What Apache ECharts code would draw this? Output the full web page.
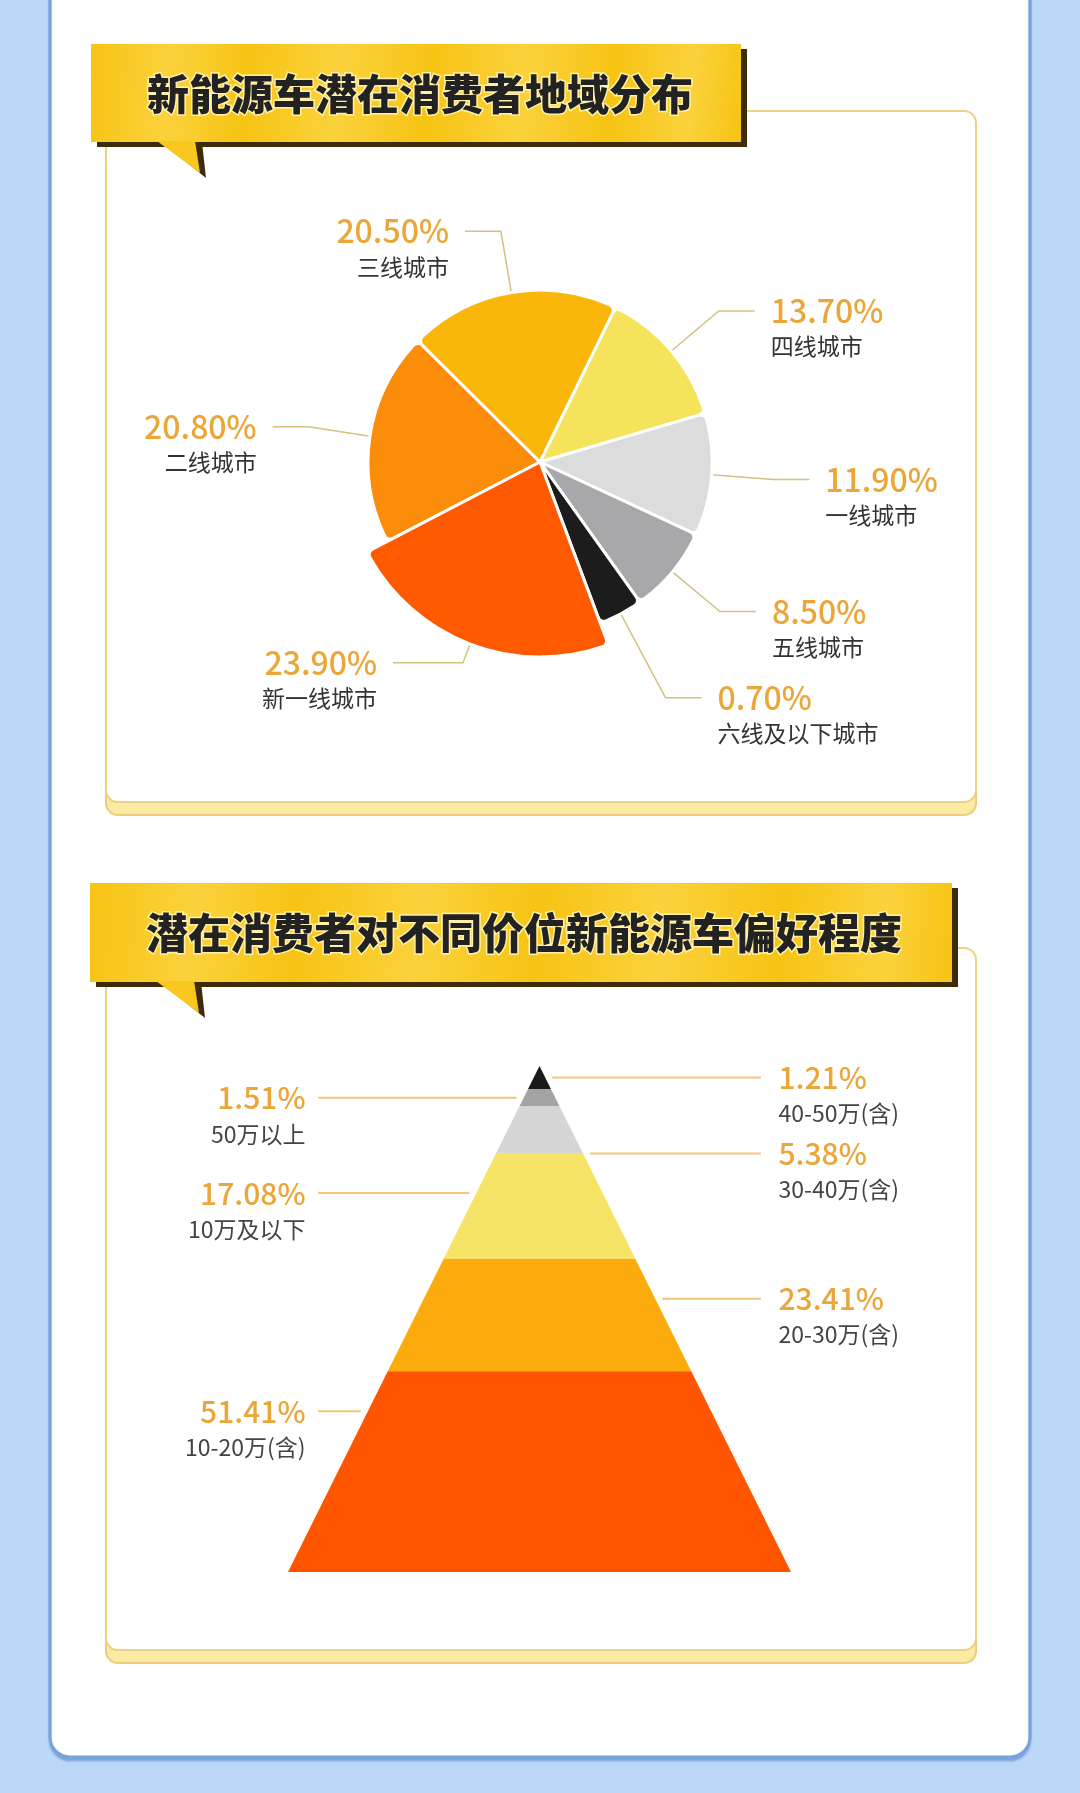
<!DOCTYPE html>
<html lang="zh">
<head>
  <meta charset="UTF-8">
  <meta name="viewport" content="width=device-width, initial-scale=1.0">
  <title>新能源车潜在消费者</title>
  <style>
    html,
    body {
      margin: 0;
      padding: 0;
      background: #bcd8f8;
    }

    #main {
      width: 1080px;
      height: 1793px;
    }
  </style>
</head>
<body>
  <div id="main"></div>
  <script src="https://cdn.jsdelivr.net/npm/echarts@6/dist/echarts.min.js"></script>
  <script>
    // 地域分布，从 12 点方向顺时针
    const cityNames = ['四线城市', '一线城市', '五线城市', '六线及以下城市', '新一线城市', '二线城市', '三线城市'];
    const cityShares = [13.7, 11.9, 8.5, 0.7, 23.9, 20.8, 20.5];
    const cityColors = ['#f6e35c', '#dcdcdd', '#a8a8aa', '#1c1c1c', '#ff5a00', '#fb8d0a', '#fbb60c'];
    const bigCity = '新一线城市';

    // 价位偏好，塔尖到塔底
    const priceNames = ['40-50万(含)', '50万以上', '30-40万(含)', '10万及以下', '20-30万(含)', '10-20万(含)'];
    const priceShares = [1.21, 1.51, 5.38, 17.08, 23.41, 51.41];
    const priceColors = ['#1a1a1a', '#a3a3a3', '#d6d6d6', '#f6e466', '#fbab0c', '#ff5500'];

    const titles = ['新能源车潜在消费者地域分布', '潜在消费者对不同价位新能源车偏好程度'];

    const FONT = '"Noto Sans CJK SC", "Noto Sans", sans-serif';
    const PCT = '#eba63a';
    const LINE = '#d6c17e';
    // 个别扇区引导线加长，避免和相邻标签挤在一起
    const leaderLength = { '六线及以下城市': 95 };

    const draw = () => {
      const myChart = echarts.init(document.getElementById('main'), null, { renderer: 'canvas' });

      // ---- pie ----
      const pieLabel = {
        formatter: p => `{p|${p.value.toFixed(2)}%}\n{n|${p.name}}`,
        padding: [31, 0, 0, 0],
        distanceToLabelLine: 16,
        rich: {
          p: { fontSize: 32, lineHeight: 40, color: PCT, fontFamily: FONT, fontWeight: 500 },
          n: { fontSize: 23, lineHeight: 31, color: '#333', fontFamily: FONT }
        }
      };
      const pieBase = {
        type: 'pie',
        center: [540, 462],
        startAngle: 64,
        minAngle: 15,
        avoidLabelOverlap: false,
        labelLayout: { hideOverlap: false },
        emphasis: { disabled: true },
        label: pieLabel,
        silent: true
      };
      const pieData = (onlyBig) => cityNames.map((n, i) => {
        const on = onlyBig ? n === bigCity : n !== bigCity;
        const line = { show: on };
        if (leaderLength[n]) line.length = leaderLength[n];
        return {
          name: n,
          value: cityShares[i],
          itemStyle: on ?
            { color: cityColors[i], borderColor: '#fff', borderWidth: 3, borderRadius: 6 } :
            { color: 'transparent', borderColor: 'transparent', borderWidth: 0 },
          label: { show: on },
          labelLine: line
        };
      });

      // ---- pyramid ----
      const pyrGrid = { left: 288, width: 503, top: 1066, height: 506 };
      const cumEnd = [];
      let acc = 0;
      priceShares.forEach(v => { acc += v; cumEnd.push(acc); });
      const depthOf = c => Math.pow(c / acc, 0.7);

      // 标签线位置：层中部（最多下移 40px），同侧标签至少相隔 76px
      const labelY = [];
      const lastY = { L: -Infinity, R: -Infinity };
      priceShares.forEach((v, i) => {
        const t = pyrGrid.top + depthOf(cumEnd[i] - v) * pyrGrid.height;
        const b = pyrGrid.top + depthOf(cumEnd[i]) * pyrGrid.height;
        const side = i % 2 === 0 ? 'R' : 'L';
        const y = Math.max(t + Math.min((b - t) / 2, 40), lastY[side] + 76);
        lastY[side] = y;
        labelY.push(y);
      });

      const renderLayer = (params, api) => {
        const i = params.dataIndex;
        const d0 = depthOf(cumEnd[i] - api.value(1));
        const d1 = depthOf(cumEnd[i]);
        const pts = [[-d0, d0], [d0, d0], [d1, d1], [-d1, d1]].map(p => api.coord(p));
        const ly = labelY[i];
        const dl = (ly - pyrGrid.top) / pyrGrid.height;
        const right = i % 2 === 0;
        const s = right ? 1 : -1;
        const edgeX = api.coord([s * dl, dl])[0] + s * 7;
        const endX = api.coord([s * 0.88, 0])[0];
        const txtX = api.coord([s * (right ? 0.95 : 0.93), 0])[0];
        const align = right ? 'left' : 'right';
        return {
          type: 'group',
          children: [
            { type: 'polygon', shape: { points: pts }, style: { fill: priceColors[i] } },
            { type: 'line', shape: { x1: edgeX, y1: ly, x2: endX, y2: ly }, style: { stroke: '#f3c679', lineWidth: 2 } },
            {
              type: 'text',
              style: {
                text: api.value(1).toFixed(2) + '%', x: txtX, y: ly,
                fill: PCT, fontSize: 30, fontFamily: FONT, fontWeight: 500,
                align: align, verticalAlign: 'middle'
              }
            },
            {
              type: 'text',
              style: {
                text: priceNames[i], x: txtX, y: ly + 36,
                fill: '#444', fontSize: 23, fontFamily: FONT,
                align: align, verticalAlign: 'middle'
              }
            }
          ]
        };
      };

      // ---- decorations ----
      const stripes = new echarts.graphic.LinearGradient(0, 0.2, 1, 0.8, [
        { offset: 0, color: '#f7c414' }, { offset: 0.12, color: '#fbd23c' },
        { offset: 0.24, color: '#f7c414' }, { offset: 0.38, color: '#fbd23c' },
        { offset: 0.52, color: '#f7c414' }, { offset: 0.66, color: '#fbd23c' },
        { offset: 0.8, color: '#f7c414' }, { offset: 0.92, color: '#fbd23c' },
        { offset: 1, color: '#f7c414' }
      ]);
      const panel = (top, bottom) => [
        { type: 'rect', shape: { x: 106, y: top + 10, width: 870, height: bottom - top + 3, r: 12 }, style: { fill: '#fbeaa2', stroke: '#e9cf7c', lineWidth: 2 } },
        { type: 'rect', shape: { x: 106, y: top, width: 870, height: bottom - top, r: 12 }, style: { fill: '#fff', stroke: '#ebd385', lineWidth: 2 } }
      ];
      const banner = (x, y, w, h, text) => [
        { type: 'polygon', shape: { points: [[x + 70, y + h], [x + 111, y + h], [x + 115, y + h + 36]] }, style: { fill: '#3d2b0a' } },
        { type: 'rect', shape: { x: x + 6, y: y + 5, width: w, height: h }, style: { fill: '#3d2b0a' } },
        { type: 'rect', shape: { x: x, y: y, width: w, height: h }, style: { fill: stripes } },
        { type: 'polygon', shape: { points: [[x + 66, y + h - 1], [x + 104, y + h - 1], [x + 109, y + h + 31]] }, style: { fill: '#f8c81e' } },
        {
          type: 'text',
          style: {
            text: text, x: x + 56, y: y + h / 2 + 1,
            fill: '#222', stroke: '#fff1a8', lineWidth: 3,
            font: `900 42px ${FONT}`, verticalAlign: 'middle'
          }
        }
      ];

      const option = {
        animation: false,
        graphic: [
          { type: 'rect', shape: { x: 50, y: -30, width: 980, height: 1787, r: 20 }, style: { fill: '#fff', stroke: '#77a3dc', lineWidth: 3, shadowColor: 'rgba(60,110,180,0.35)', shadowOffsetY: 3, shadowBlur: 2 } },
          ...panel(111, 802),
          ...panel(948, 1650),
          ...banner(91, 44, 650, 98, titles[0]),
          ...banner(90, 883, 862, 99, titles[1])
        ],
        grid: Object.assign({ containLabel: false }, pyrGrid),
        xAxis: { type: 'value', min: -1, max: 1, show: false },
        yAxis: { type: 'value', min: 0, max: 1, inverse: true, show: false },
        series: [
          Object.assign({}, pieBase, {
            radius: [0, 172],
            labelLine: { length: 62, length2: 36, lineStyle: { color: LINE, width: 1.5 } },
            data: pieData(false)
          }),
          Object.assign({}, pieBase, {
            radius: [0, 195],
            labelLine: { length: 20, length2: 70, lineStyle: { color: LINE, width: 1.5 } },
            data: pieData(true)
          }),
          {
            type: 'custom',
            coordinateSystem: 'cartesian2d',
            silent: true,
            renderItem: renderLayer,
            data: priceShares.map((v, i) => [i, v])
          }
        ]
      };

      myChart.setOption(option);
    };

    draw();
  </script>
</body>
</html>
